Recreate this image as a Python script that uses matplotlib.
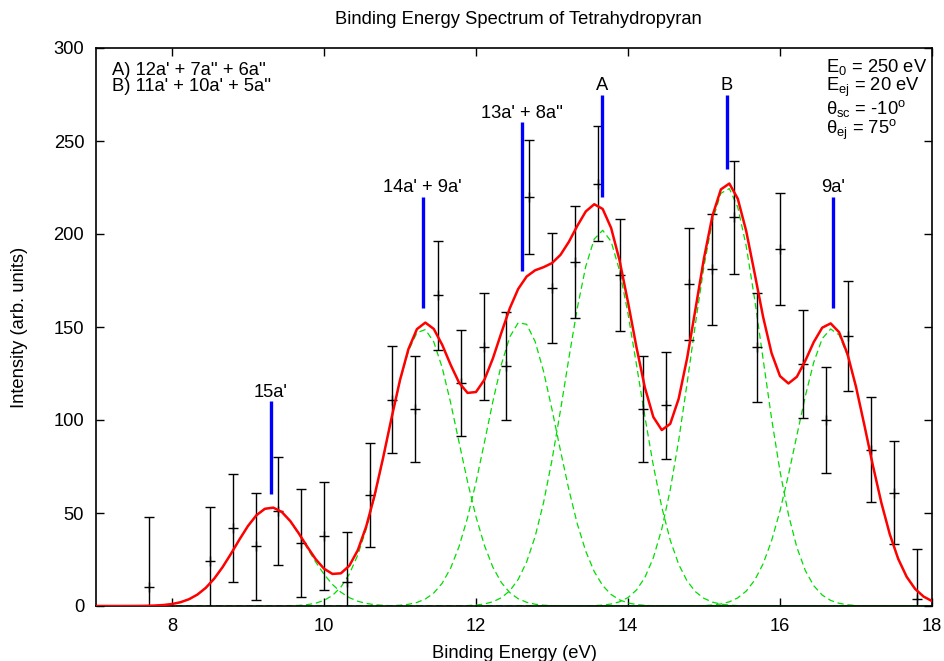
import numpy as np
import matplotlib
matplotlib.use("Agg")
import matplotlib.pyplot as plt

plt.rcParams['font.family'] = ['Liberation Sans', 'DejaVu Sans']
plt.rcParams['mathtext.fontset'] = 'custom'
plt.rcParams['mathtext.rm'] = 'Liberation Sans'
plt.rcParams['mathtext.it'] = 'Liberation Sans:italic'

# ---- measured data ----
energy = [7.7, 8.5, 8.8, 9.1, 9.4, 9.7, 10.0, 10.3, 10.6, 10.9, 11.2, 11.5, 11.8,
          12.1, 12.4, 12.7, 13.0, 13.3, 13.6, 13.9, 14.2, 14.5, 14.8, 15.1, 15.4,
          15.7, 16.0, 16.3, 16.6, 16.9, 17.2, 17.5, 17.8]
intensity = [10, 24, 42, 32, 51, 34, 37.5, 13, 59.5, 111, 106, 167, 120,
             139.5, 129, 220, 171, 185, 227, 178, 106, 108, 173, 181, 209,
             139, 192, 130, 100, 145, 84, 61, 4]
errors = [38, 29, 29, 29, 29, 29, 29, 27, 28, 29, 28.5, 29.5, 28.6,
          29, 29, 30.5, 29.7, 30, 31, 30, 28.5, 28.7, 30, 30, 30.5,
          29.3, 30, 29, 28.5, 29.5, 28.3, 27.8, 26.7]

# ---- fitted Gaussian components ----
peak_centers = [9.30, 11.30, 12.60, 13.66, 15.30, 16.68]
peak_heights = [53, 149, 153, 202, 225, 149]
peak_sigmas = [0.465, 0.465, 0.465, 0.48, 0.465, 0.465]

# ---- orbital assignment markers ----
mark_x = [9.30, 11.30, 12.60, 13.66, 15.30, 16.70]
mark_lo = [60, 160, 180, 220, 235, 160]
mark_hi = [110, 220, 260, 275, 275, 220]
mark_labels = ["15a'", "14a' + 9a'", "13a' + 8a''", "A", "B", "9a'"]

# ---- annotation text ----
left_note = ["A) 12a' + 7a'' + 6a''", "B) 11a' + 10a' + 5a''"]
right_note = [r"E$_{0}$ = 250 eV", r"E$_{\mathrm{ej}}$ = 20 eV",
              r"θ$_{\mathrm{sc}}$ = -10$^{\mathrm{o}}$", r"θ$_{\mathrm{ej}}$ = 75$^{\mathrm{o}}$"]

FS = 13.2

fig = plt.figure(figsize=(9.44, 6.61), dpi=100)
ax = fig.add_axes([96/944, 1-606/661, (932-96)/944, (606-48)/661])

xs = np.linspace(7, 18, 100)
total = np.zeros_like(xs)
for c, h, s in zip(peak_centers, peak_heights, peak_sigmas):
    g = h*np.exp(-(xs-c)**2/(2*s**2))
    total += g
    ax.plot(xs, g, color='#00dd00', lw=0.9, ls=(0, (5, 3)), zorder=2)

ax.errorbar(energy, intensity, yerr=errors, fmt='+', color='black', ms=7,
            mew=1.0, elinewidth=1.0, capsize=3.5, capthick=1.0, zorder=3)

ax.plot(xs, total, color='#ff0000', lw=1.8, zorder=4)

for x, lo, hi, lab in zip(mark_x, mark_lo, mark_hi, mark_labels):
    ax.plot([x, x], [lo, hi], color='#0000ff', lw=2.4, zorder=5, solid_capstyle='butt')
    ax.text(x, hi+5, lab, ha='center', va='center', fontsize=FS)

ax.text(7.21, 285.6, left_note[0], ha='left', va='baseline', fontsize=FS)
ax.text(7.21, 277.0, left_note[1], ha='left', va='baseline', fontsize=FS)

ax.text(16.61, 295.0, "\n".join(right_note), ha='left', va='top',
        fontsize=FS, linespacing=0.92, multialignment='left')

ax.set_xlim(7, 18)
ax.set_ylim(0, 300)
ax.set_xticks([8, 10, 12, 14, 16, 18])
ax.set_yticks([0, 50, 100, 150, 200, 250, 300])
ax.tick_params(direction='in', length=6, width=1, top=True, right=True,
               labelsize=FS, pad=8.5)
for s in ax.spines.values():
    s.set_linewidth(1.2)

fig.text(518/944, 1-20/661, "Binding Energy Spectrum of Tetrahydropyran",
         ha='center', va='center', fontsize=FS)
fig.text(514/944, 1-654/661, "Binding Energy (eV)", ha='center', va='center', fontsize=FS)
fig.text(20/944, 1-327/661, "Intensity (arb. units)", ha='center', va='center',
         rotation=90, fontsize=FS)

fig.savefig("out.png", dpi=100)
